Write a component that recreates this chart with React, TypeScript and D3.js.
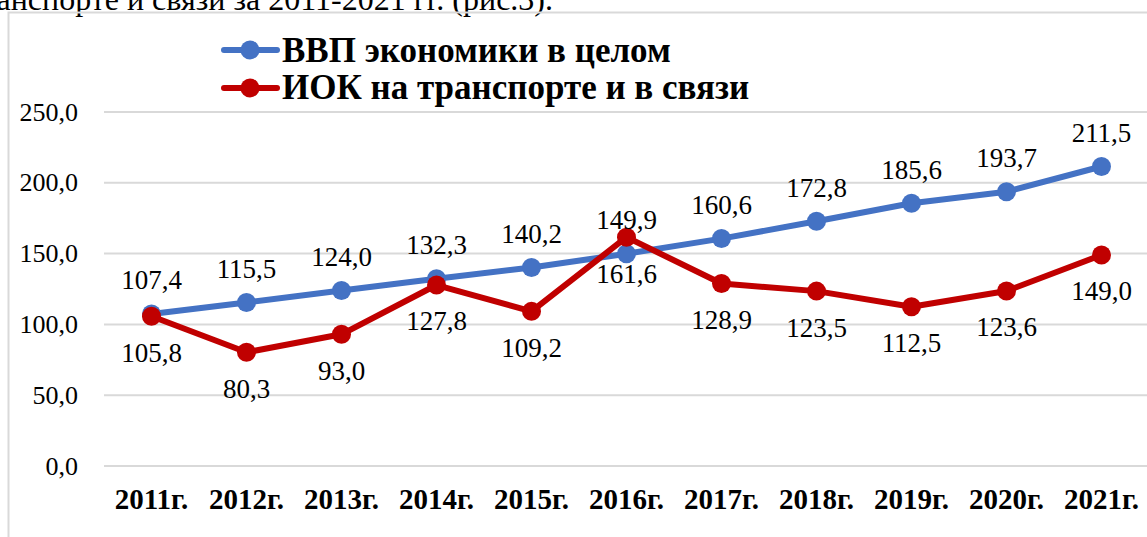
import React, { useEffect, useRef } from 'react';
import * as d3 from 'd3';

const years = ['2011г.', '2012г.', '2013г.', '2014г.', '2015г.', '2016г.', '2017г.', '2018г.', '2019г.', '2020г.', '2021г.'];
const gdpValues = [107.4, 115.5, 124.0, 132.3, 140.2, 149.9, 160.6, 172.8, 185.6, 193.7, 211.5];
const iokValues = [105.8, 80.3, 93.0, 127.8, 109.2, 161.6, 128.9, 123.5, 112.5, 123.6, 149.0];
const yTicks = [0, 50, 100, 150, 200, 250];
const seriesNames = ['ВВП экономики в целом', 'ИОК на транспорте и в связи'];
const captionText = 'транспорте и связи за 2011-2021 гг. (рис.3).';

const App = () => {
    const svgRef = useRef<SVGSVGElement>(null);

    useEffect(() => {
        const svg = d3.select(svgRef.current);
        const width = 1147;
        const height = 537;
        svg.selectAll('*').remove();

        const serif = "'Liberation Serif', 'Times New Roman', 'DejaVu Serif', serif";
        const fmt = (v: number) => v.toFixed(1).replace('.', ',');

        // текст над рамкой (обрезан сверху, как на скане)
        svg.append('text')
            .attr('x', 553)
            .attr('y', 10)
            .attr('text-anchor', 'end')
            .style('font-family', serif)
            .style('font-size', '32px')
            .attr('fill', '#000')
            .text(captionText);

        // рамка диаграммы
        svg.append('path')
            .attr('d', `M8.5,${height} V12.5 H${width}`)
            .attr('fill', 'none')
            .attr('stroke', '#d9d9d9')
            .attr('stroke-width', 2);

        const x = d3.scaleBand<string>()
            .domain(years)
            .range([104, 1149]);

        const y = d3.scaleLinear()
            .domain([0, 250])
            .range([466, 112]);

        const cx = (i: number) => (x(years[i]) as number) + x.bandwidth() / 2;

        // сетка
        svg.append('g')
            .selectAll('line')
            .data(yTicks)
            .join('line')
            .attr('x1', 104)
            .attr('x2', width)
            .attr('y1', d => y(d))
            .attr('y2', d => y(d))
            .attr('stroke', '#d9d9d9')
            .attr('stroke-width', 2);

        // подписи оси Y
        svg.append('g')
            .selectAll('text')
            .data(yTicks)
            .join('text')
            .attr('x', 78)
            .attr('y', d => y(d))
            .attr('dy', '0.33em')
            .attr('text-anchor', 'end')
            .style('font-family', serif)
            .style('font-size', '26px')
            .attr('fill', '#000')
            .text(d => fmt(d));

        // подписи оси X
        svg.append('g')
            .selectAll('text')
            .data(years)
            .join('text')
            .attr('x', (d, i) => cx(i))
            .attr('y', 509)
            .attr('text-anchor', 'middle')
            .style('font-family', serif)
            .style('font-weight', 'bold')
            .style('font-size', '29px')
            .attr('fill', '#000')
            .text(d => d);

        const series = [
            { name: seriesNames[0], values: gdpValues, color: '#4472c4', labelDy: -34 },
            { name: seriesNames[1], values: iokValues, color: '#c00000', labelDy: 36 }
        ];

        const line = d3.line<number>()
            .x((d, i) => cx(i))
            .y(d => y(d));

        series.forEach(s => {
            svg.append('path')
                .datum(s.values)
                .attr('fill', 'none')
                .attr('stroke', s.color)
                .attr('stroke-width', 6)
                .attr('stroke-linejoin', 'round')
                .attr('d', line);

            svg.append('g')
                .selectAll('circle')
                .data(s.values)
                .join('circle')
                .attr('cx', (d, i) => cx(i))
                .attr('cy', d => y(d))
                .attr('r', 9.5)
                .attr('fill', s.color);
        });

        // подписи данных
        series.forEach(s => {
            svg.append('g')
                .selectAll('text')
                .data(s.values)
                .join('text')
                .attr('x', (d, i) => cx(i))
                .attr('y', d => y(d) + s.labelDy)
                .attr('dy', '0.35em')
                .attr('text-anchor', 'middle')
                .style('font-family', serif)
                .style('font-size', '27px')
                .attr('fill', '#000')
                .text(d => fmt(d));
        });

        // легенда
        const legend = svg.append('g');
        series.forEach((s, i) => {
            const ly = 50 + i * 38;
            legend.append('line')
                .attr('x1', 224)
                .attr('x2', 277)
                .attr('y1', ly)
                .attr('y2', ly)
                .attr('stroke', s.color)
                .attr('stroke-width', 6)
                .attr('stroke-linecap', 'round');
            legend.append('circle')
                .attr('cx', 250)
                .attr('cy', ly)
                .attr('r', 9.5)
                .attr('fill', s.color);
            legend.append('text')
                .attr('x', 282)
                .attr('y', 62 + i * 37)
                .style('font-family', serif)
                .style('font-weight', 'bold')
                .style('font-size', '35px')
                .attr('fill', '#000')
                .text(s.name);
        });
    }, []);

    return (
        <svg
            ref={svgRef}
            width={1147}
            height={537}
            style={{ position: 'absolute', left: 0, top: 0, display: 'block', background: '#fff' }}
        />
    );
};

export default App;
